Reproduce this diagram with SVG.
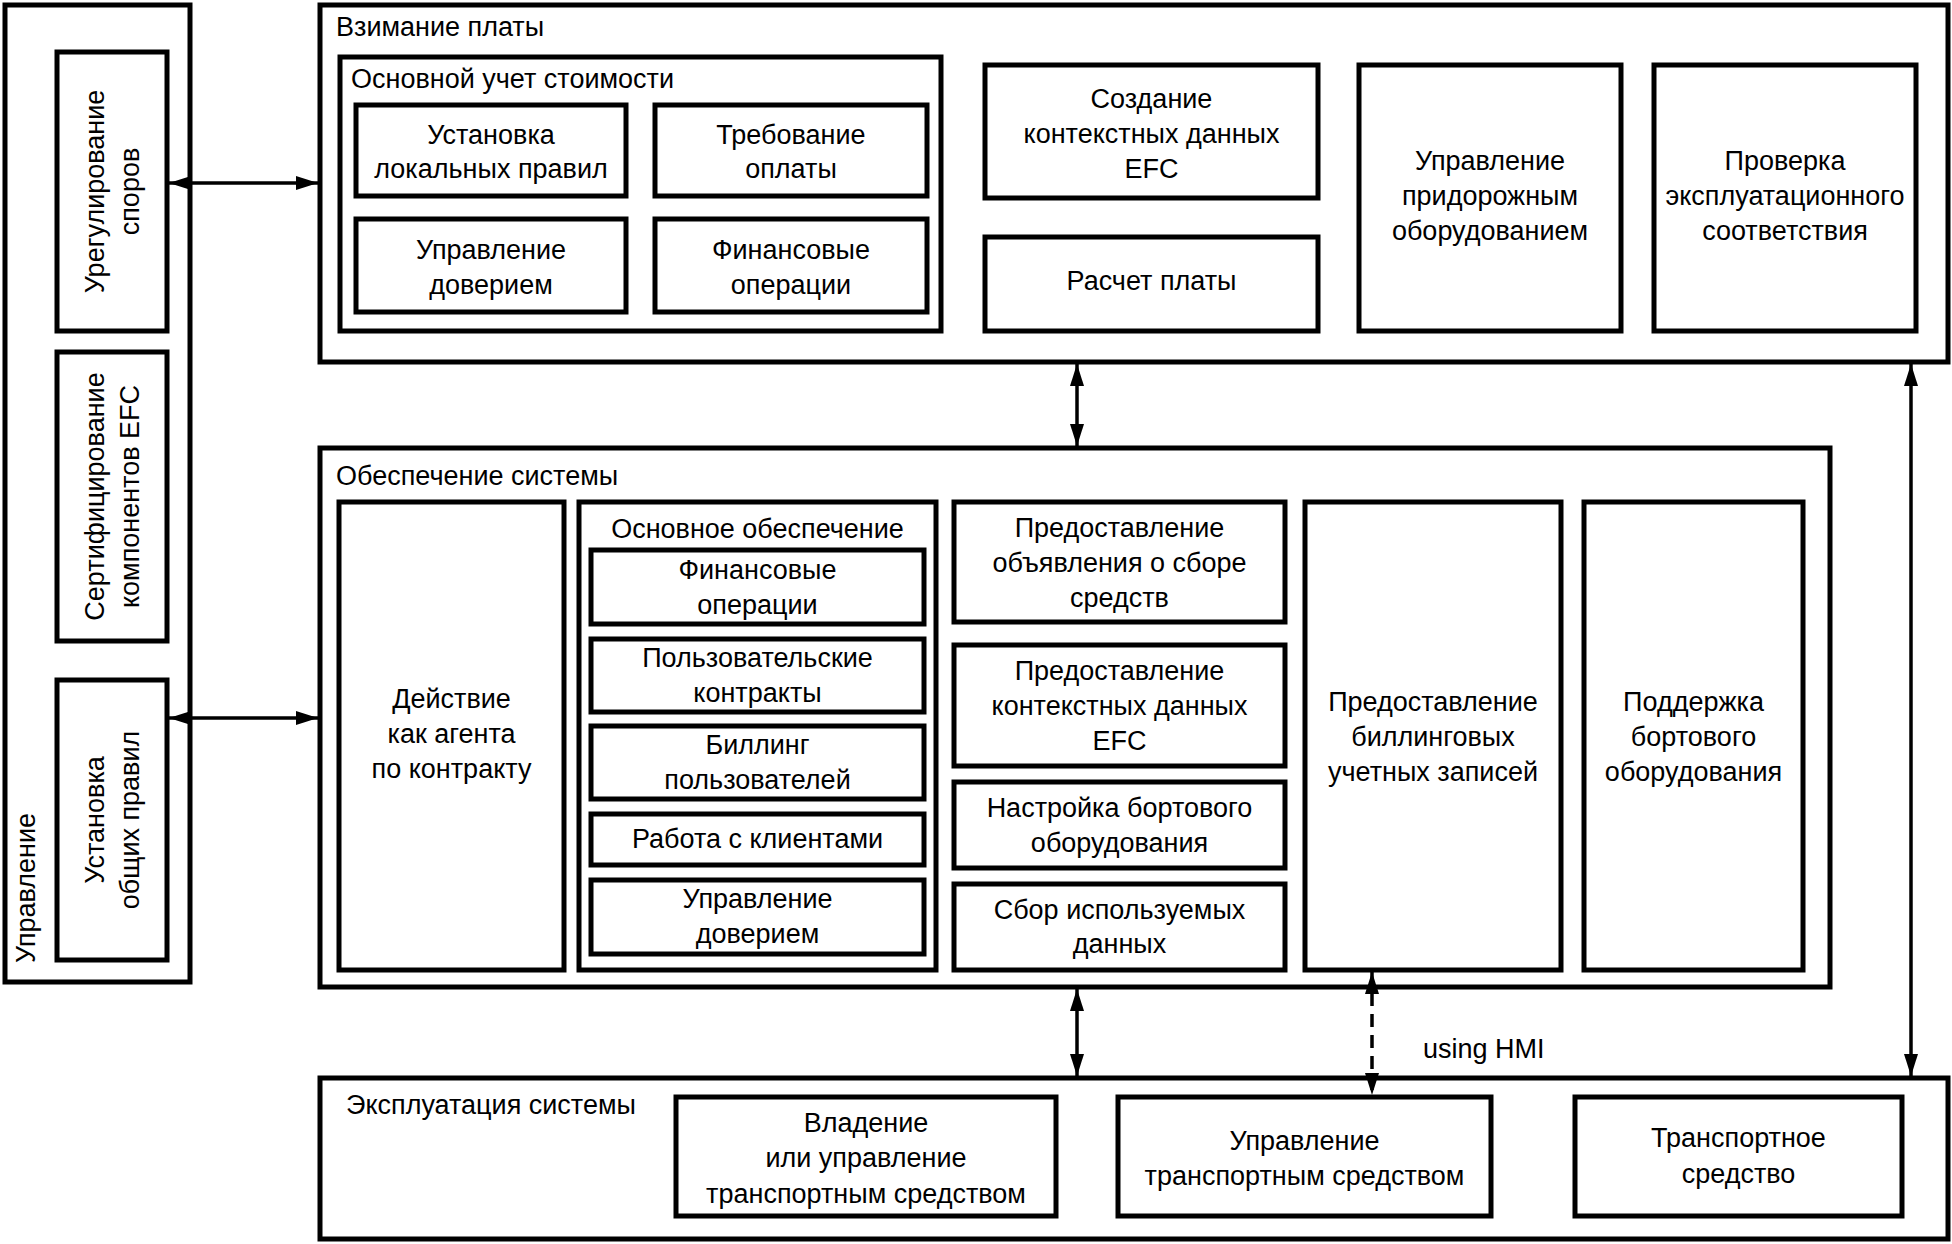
<svg xmlns="http://www.w3.org/2000/svg" width="1952" height="1244" viewBox="0 0 1952 1244">
<style>
.box{fill:none;stroke:#000;stroke-width:5}
.t{font-family:"Liberation Sans",Arial,sans-serif;font-size:27px;fill:#000}
.c{text-anchor:middle}
.ln{stroke:#000;stroke-width:3.5;fill:none}
.dash{stroke-dasharray:13 8}
</style>
<defs>
<marker id="ah" markerUnits="userSpaceOnUse" markerWidth="24" markerHeight="16" viewBox="0 0 24 16" refX="22" refY="8" orient="auto-start-reverse">
<path d="M0,1 L22,8 L0,15 Z" fill="#000"/>
</marker>
</defs>
<rect width="1952" height="1244" fill="#fff"/>

<g id="upravlenie">
<rect class="box" x="5" y="5" width="185" height="977"/>
<text class="t" transform="translate(35,963) rotate(-90)">Управление</text>
</g>
<g id="uregulirovanie">
<rect class="box" x="57" y="52" width="110" height="279"/>
<text class="t c" transform="translate(112,191.5) rotate(-90)"><tspan x="0" y="-8">Урегулирование</tspan><tspan x="0" y="27">споров</tspan></text>
</g>
<g id="sertifikacia">
<rect class="box" x="57" y="352" width="110" height="289"/>
<text class="t c" transform="translate(112,496.5) rotate(-90)"><tspan x="0" y="-8">Сертифицирование</tspan><tspan x="0" y="27">компонентов EFC</tspan></text>
</g>
<g id="obschie-pravila">
<rect class="box" x="57" y="680" width="110" height="280"/>
<text class="t c" transform="translate(112,820) rotate(-90)"><tspan x="0" y="-8">Установка</tspan><tspan x="0" y="27">общих правил</tspan></text>
</g>

<g id="vzimanie">
<rect class="box" x="320" y="5" width="1628" height="357"/>
<text class="t" x="336" y="36">Взимание платы</text>
</g>
<g id="osnovnoy-uchet">
<rect class="box" x="340" y="57" width="601" height="274"/>
<text class="t" x="351" y="88">Основной учет стоимости</text>
</g>
<g id="lokalnye-pravila">
<rect class="box" x="356" y="105" width="270" height="91"/>
<text class="t c"><tspan x="491" y="144">Установка</tspan><tspan x="491" y="178">локальных правил</tspan></text>
</g>
<g id="trebovanie-oplaty">
<rect class="box" x="655" y="105" width="272" height="91"/>
<text class="t c"><tspan x="791" y="144">Требование</tspan><tspan x="791" y="178">оплаты</tspan></text>
</g>
<g id="upr-doveriem-1">
<rect class="box" x="356" y="219" width="270" height="93"/>
<text class="t c"><tspan x="491" y="259">Управление</tspan><tspan x="491" y="294">доверием</tspan></text>
</g>
<g id="fin-operacii-1">
<rect class="box" x="655" y="219" width="272" height="93"/>
<text class="t c"><tspan x="791" y="259">Финансовые</tspan><tspan x="791" y="294">операции</tspan></text>
</g>
<g id="sozdanie-konteksta">
<rect class="box" x="985" y="65" width="333" height="133"/>
<text class="t c"><tspan x="1151.5" y="108">Создание</tspan><tspan x="1151.5" y="143">контекстных данных</tspan><tspan x="1151.5" y="178">EFC</tspan></text>
</g>
<g id="raschet-platy">
<rect class="box" x="985" y="237" width="333" height="94"/>
<text class="t c" x="1151.5" y="290">Расчет платы</text>
</g>
<g id="pridorozhnoe">
<rect class="box" x="1359" y="65" width="262" height="266"/>
<text class="t c"><tspan x="1490" y="170">Управление</tspan><tspan x="1490" y="205">придорожным</tspan><tspan x="1490" y="240">оборудованием</tspan></text>
</g>
<g id="proverka">
<rect class="box" x="1654" y="65" width="262" height="266"/>
<text class="t c"><tspan x="1785" y="170">Проверка</tspan><tspan x="1785" y="205">эксплуатационного</tspan><tspan x="1785" y="240">соответствия</tspan></text>
</g>

<g id="obespechenie">
<rect class="box" x="320" y="448" width="1510" height="539"/>
<text class="t" x="336" y="485">Обеспечение системы</text>
</g>
<g id="deystvie-agenta">
<rect class="box" x="339" y="502" width="225" height="468"/>
<text class="t c"><tspan x="451.5" y="708">Действие</tspan><tspan x="451.5" y="743">как агента</tspan><tspan x="451.5" y="778">по контракту</tspan></text>
</g>
<g id="osnovnoe-obespechenie">
<rect class="box" x="579" y="502" width="357" height="468"/>
<text class="t c" x="757.5" y="538">Основное обеспечение</text>
</g>
<g id="fin-operacii-2">
<rect class="box" x="591" y="550" width="333" height="74"/>
<text class="t c"><tspan x="757.5" y="579">Финансовые</tspan><tspan x="757.5" y="614">операции</tspan></text>
</g>
<g id="polz-kontrakty">
<rect class="box" x="591" y="639" width="333" height="73"/>
<text class="t c"><tspan x="757.5" y="667">Пользовательские</tspan><tspan x="757.5" y="702">контракты</tspan></text>
</g>
<g id="billing-polz">
<rect class="box" x="591" y="726" width="333" height="73"/>
<text class="t c"><tspan x="757.5" y="754">Биллинг</tspan><tspan x="757.5" y="789">пользователей</tspan></text>
</g>
<g id="rabota-klienty">
<rect class="box" x="591" y="814" width="333" height="51"/>
<text class="t c" x="757.5" y="848">Работа с клиентами</text>
</g>
<g id="upr-doveriem-2">
<rect class="box" x="591" y="880" width="333" height="74"/>
<text class="t c"><tspan x="757.5" y="908">Управление</tspan><tspan x="757.5" y="943">доверием</tspan></text>
</g>
<g id="obyavlenie">
<rect class="box" x="954" y="502" width="331" height="120"/>
<text class="t c"><tspan x="1119.5" y="537">Предоставление</tspan><tspan x="1119.5" y="572">объявления о сборе</tspan><tspan x="1119.5" y="607">средств</tspan></text>
</g>
<g id="kontekst-efc">
<rect class="box" x="954" y="645" width="331" height="121"/>
<text class="t c"><tspan x="1119.5" y="680">Предоставление</tspan><tspan x="1119.5" y="715">контекстных данных</tspan><tspan x="1119.5" y="750">EFC</tspan></text>
</g>
<g id="nastroyka-bortovogo">
<rect class="box" x="954" y="782" width="331" height="86"/>
<text class="t c"><tspan x="1119.5" y="817">Настройка бортового</tspan><tspan x="1119.5" y="852">оборудования</tspan></text>
</g>
<g id="sbor-dannyh">
<rect class="box" x="954" y="884" width="331" height="86"/>
<text class="t c"><tspan x="1119.5" y="919">Сбор используемых</tspan><tspan x="1119.5" y="953">данных</tspan></text>
</g>
<g id="billing-zapisi">
<rect class="box" x="1305" y="502" width="256" height="468"/>
<text class="t c"><tspan x="1433" y="711">Предоставление</tspan><tspan x="1433" y="746">биллинговых</tspan><tspan x="1433" y="781">учетных записей</tspan></text>
</g>
<g id="podderzhka-bortovogo">
<rect class="box" x="1584" y="502" width="219" height="468"/>
<text class="t c"><tspan x="1693.5" y="711">Поддержка</tspan><tspan x="1693.5" y="746">бортового</tspan><tspan x="1693.5" y="781">оборудования</tspan></text>
</g>

<g id="ekspluataciya">
<rect class="box" x="320" y="1078" width="1628" height="161"/>
<text class="t" x="346" y="1114">Эксплуатация системы</text>
</g>
<g id="vladenie">
<rect class="box" x="676" y="1097" width="380" height="119"/>
<text class="t c"><tspan x="866" y="1132">Владение</tspan><tspan x="866" y="1167">или управление</tspan><tspan x="866" y="1203">транспортным средством</tspan></text>
</g>
<g id="upr-ts">
<rect class="box" x="1118" y="1097" width="373" height="119"/>
<text class="t c"><tspan x="1304.5" y="1150">Управление</tspan><tspan x="1304.5" y="1185">транспортным средством</tspan></text>
</g>
<g id="ts">
<rect class="box" x="1575" y="1097" width="327" height="119"/>
<text class="t c"><tspan x="1738.5" y="1147">Транспортное</tspan><tspan x="1738.5" y="1183">средство</tspan></text>
</g>

<g id="connectors">
<line class="ln" x1="169" y1="183" x2="318" y2="183" marker-start="url(#ah)" marker-end="url(#ah)"/>
<line class="ln" x1="169" y1="718" x2="318" y2="718" marker-start="url(#ah)" marker-end="url(#ah)"/>
<line class="ln" x1="1077" y1="364" x2="1077" y2="446" marker-start="url(#ah)" marker-end="url(#ah)"/>
<line class="ln" x1="1077" y1="989" x2="1077" y2="1076" marker-start="url(#ah)" marker-end="url(#ah)"/>
<line class="ln dash" x1="1372" y1="972" x2="1372" y2="1095" marker-start="url(#ah)" marker-end="url(#ah)"/>
<line class="ln" x1="1911" y1="364" x2="1911" y2="1076" marker-start="url(#ah)" marker-end="url(#ah)"/>
<text class="t" x="1423" y="1058">using HMI</text>
</g>
</svg>
